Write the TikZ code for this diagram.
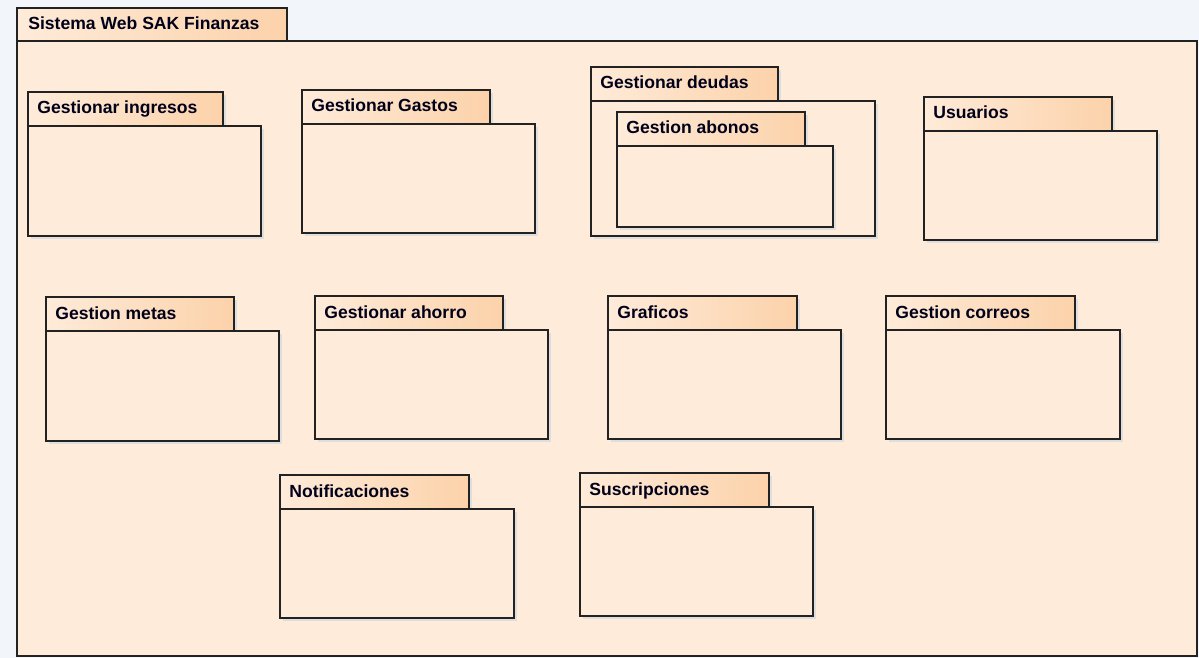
\documentclass[tikz,border=0pt]{standalone}
\usepackage{fontspec}
\setmainfont{Liberation Sans}
\usetikzlibrary{calc}
\definecolor{pkgfill}{HTML}{FEEBD9}
\definecolor{pkgtab}{HTML}{FCD2AA}
\definecolor{pkgline}{HTML}{222222}
\definecolor{canvas}{HTML}{F2F5F9}
\tikzset{pkgbody/.style={draw=pkgline,line width=1pt,fill=pkgfill},
  pkgtabbox/.style={draw=pkgline,line width=1pt,left color=pkgfill,right color=pkgtab},
  pkgshadow/.style={fill=black!13},
  pkglabel/.style={anchor=base west,inner sep=0pt,font=\bfseries\fontsize{10}{12}\selectfont,text=black!90!blue}}
% \pkg{name}{x}{y}{tab width}{body width}{body height}{label}
\newcommand{\pkg}[7]{%
  \fill[pkgshadow] (#2+3,#3+3) rectangle (#2+#4+3,#3+34);
  \fill[pkgshadow] (#2+3,#3+37) rectangle (#2+#5+3,#3+34+#6+3);
  \shade[pkgtabbox] (#2,#3) rectangle (#2+#4,#3+34);
  \draw[pkgbody] (#2,#3+34) rectangle (#2+#5,#3+34+#6);
  \node[pkglabel] (#1) at (#2+9,#3+22) {#7};}

\begin{document}
\begin{tikzpicture}[x=0.02cm,y=-0.02cm]
\fill[canvas] (0,0) rectangle (1199,658);
\useasboundingbox (0,0) rectangle (1199,658);
% outer package
\shade[pkgtabbox] (17,8) rectangle (287,41);
\draw[pkgbody] (17,41) rectangle (1197,656);
\node[pkglabel] (sistema) at (28,30) {Sistema Web SAK Finanzas};
% first row
\pkg{ingresos}{28}{92}{195}{233}{110}{Gestionar ingresos}
\pkg{gastos}{302}{90}{188}{233}{109}{Gestionar Gastos}
\pkg{deudas}{591}{67}{187}{284}{135}{Gestionar deudas}
\pkg{abonos}{617}{112}{188}{216}{81}{Gestion abonos}
\pkg{usuarios}{924}{97}{188}{233}{109}{Usuarios}
% second row
\pkg{metas}{46}{297}{188}{233}{110}{Gestion metas}
\pkg{ahorro}{315}{296}{188}{233}{109}{Gestionar ahorro}
\pkg{graficos}{608}{296}{189}{233}{109}{Graficos}
\pkg{correos}{886}{296}{189}{234}{109}{Gestion correos}
% third row
\pkg{notif}{280}{475}{189}{234}{109}{Notificaciones}
\pkg{suscrip}{580}{473}{189}{233}{109}{Suscripciones}
\end{tikzpicture}
\end{document}
